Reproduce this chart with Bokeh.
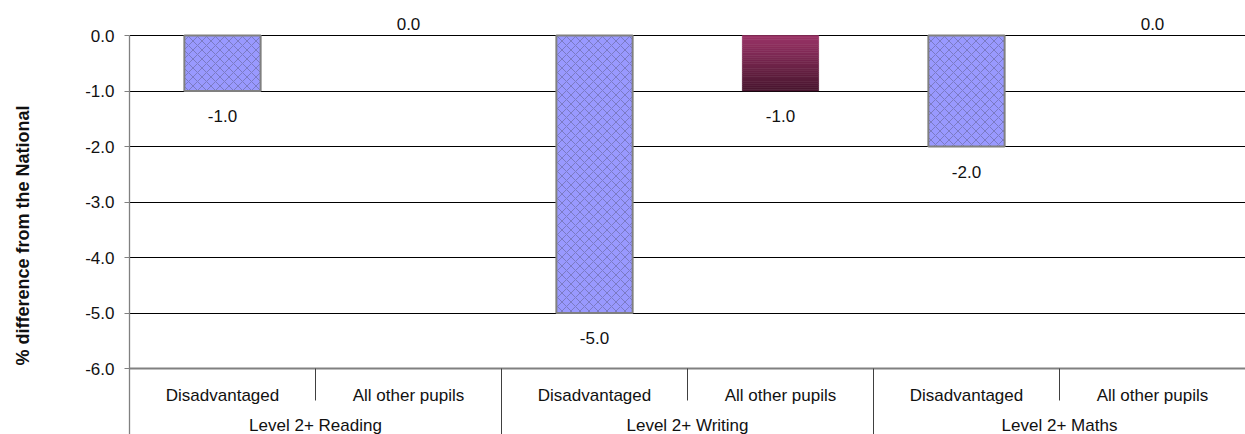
from math import pi
from bokeh.plotting import figure
from bokeh.layouts import row
from bokeh.models import (FactorRange, FixedTicker, NumeralTickFormatter,
                          ColumnDataSource, Range1d)
from bokeh.core.properties import value
from bokeh.embed import file_html
from bokeh.resources import INLINE

# ---- data ----
subjects = ["Level 2+ Reading", "Level 2+ Writing", "Level 2+ Maths"]
pupil_groups = ["Disadvantaged", "All other pupils"]
disadvantaged = [-1.0, -5.0, -2.0]
all_other = [0.0, -1.0, 0.0]
y_ticks = [0.0, -1.0, -2.0, -3.0, -4.0, -5.0, -6.0]
y_title = "% difference from the National"

# ---- style ----
FONT = "Liberation Sans"
FS = "17px"
W, H = 1245, 434
TITLE_W = 44                      # width of the strip holding the axis title
ZERO_PX = 35                      # canvas y of the zero line
LEFT_PX = 129                     # page x of the value axis
PX_PER_UNIT = 55.5
Y_TOP = ZERO_PX / PX_PER_UNIT
Y_BOTTOM = -(H - ZERO_PX) / PX_PER_UNIT
BAR_W = 0.41
GRAD_TOP = (155, 52, 104)
GRAD_BOT = (72, 22, 46)


def y_at(px):
    return -(px - ZERO_PX) / PX_PER_UNIT


# ---- axis title strip ----
t = figure(width=TITLE_W, height=H, x_range=Range1d(0, TITLE_W),
           y_range=Range1d(0, H), output_backend="svg",
           toolbar_location=None, x_axis_location=None, y_axis_location=None,
           min_border_left=0, min_border_right=0, min_border_top=0,
           min_border_bottom=0)
t.outline_line_color = None
t.grid.visible = False
t.text(x=[22], y=[H - 235], text=[y_title], angle=pi / 2,
       text_font=value(FONT), text_font_style="bold", text_font_size="18px",
       text_align="center", text_baseline="middle", text_color="#111111")

# ---- main chart ----
factors = [(s, g) for s in subjects for g in pupil_groups]
x_range = FactorRange(*factors, factor_padding=0, subgroup_padding=0,
                      group_padding=0, range_padding=0)

p = figure(width=W - TITLE_W, height=H, x_range=x_range,
           y_range=Range1d(Y_BOTTOM, Y_TOP),
           output_backend="svg", toolbar_location=None,
           x_axis_location=None,
           min_border_left=LEFT_PX - TITLE_W, min_border_right=0,
           min_border_top=0, min_border_bottom=0)
p.outline_line_color = None
p.background_fill_color = "white"
p.xgrid.visible = False

# y axis
p.yaxis.ticker = FixedTicker(ticks=y_ticks)
p.yaxis.formatter = NumeralTickFormatter(format="0.0")
p.yaxis.bounds = (Y_BOTTOM, 0)
p.yaxis.axis_line_color = "#808080"
p.yaxis.axis_line_width = 1.3
p.yaxis.major_tick_line_color = "#808080"
p.yaxis.major_tick_out = 5
p.yaxis.major_tick_in = 0
p.yaxis.minor_tick_line_color = None
p.yaxis.major_label_standoff = 10
p.yaxis.major_label_text_font = FONT
p.yaxis.major_label_text_font_size = FS
p.yaxis.major_label_text_color = "#111111"

p.ygrid.ticker = FixedTicker(ticks=y_ticks[:-1])
p.ygrid.grid_line_color = "black"
p.ygrid.grid_line_width = 1

# Disadvantaged bars (hatched)
src_d = ColumnDataSource(dict(x=[(s, pupil_groups[0]) for s in subjects],
                              v=disadvantaged))
p.vbar(x="x", top=0, bottom="v", width=BAR_W, source=src_d,
       fill_color="#9999ff", line_color="#808080", line_width=2,
       hatch_pattern="diagonal_cross", hatch_color="#7474b8",
       hatch_scale=9, hatch_weight=1, hatch_alpha=0.85)

# All other pupils bars (vertical gradient)
N = 30
gx, gt, gb, gc = [], [], [], []
for s, v in zip(subjects, all_other):
    if v == 0:
        continue
    for i in range(N):
        f = (i + 0.5) / N
        col = tuple(int(round(a + (b - a) * f)) for a, b in zip(GRAD_TOP, GRAD_BOT))
        gx.append((s, pupil_groups[1]))
        gt.append(v * i / N)
        gb.append(v * (i + 1) / N)
        gc.append("#%02x%02x%02x" % col)
p.vbar(x=gx, top=gt, bottom=gb, width=BAR_W, fill_color=gc,
       line_color=gc, line_width=0.6)

# bottom category axis line
p.segment(x0=[0], y0=[y_ticks[-1]], x1=[len(factors)], y1=[y_ticks[-1]],
          line_color="#808080", line_width=2)

# category separators
sep_x, sep_y1 = [], []
for i in range(1, len(factors)):
    sep_x.append(i)
    sep_y1.append(y_at(400) if i % len(pupil_groups) else Y_BOTTOM)
p.segment(x0=sep_x, y0=[y_ticks[-1]] * len(sep_x), x1=sep_x, y1=sep_y1,
          line_color="#404040", line_width=1)

# value labels
lab_x, lab_y, lab_t = [], [], []
for s, dv, ov in zip(subjects, disadvantaged, all_other):
    for g, v in ((pupil_groups[0], dv), (pupil_groups[1], ov)):
        lab_x.append((s, g))
        lab_y.append(v - 25 / PX_PER_UNIT if v < 0 else v + 11.7 / PX_PER_UNIT)
        lab_t.append("%.1f" % v)
p.text(x=lab_x, y=lab_y, text=lab_t, text_font=value(FONT),
       text_font_size=FS, text_align="center", text_baseline="alphabetic",
       text_color="#111111")

# category labels
p.text(x=factors, y=[y_at(395)] * len(factors),
       text=[f[1] for f in factors], text_font=value(FONT),
       text_font_size=FS, text_align="center", text_baseline="alphabetic",
       text_color="#111111")
p.text(x=subjects, y=[y_at(425)] * len(subjects),
       text=subjects, text_font=value(FONT),
       text_font_size=FS, text_align="center", text_baseline="alphabetic",
       text_color="#111111")

layout = row(t, p, spacing=0)
open("out.html", "w").write(file_html(layout, INLINE))
